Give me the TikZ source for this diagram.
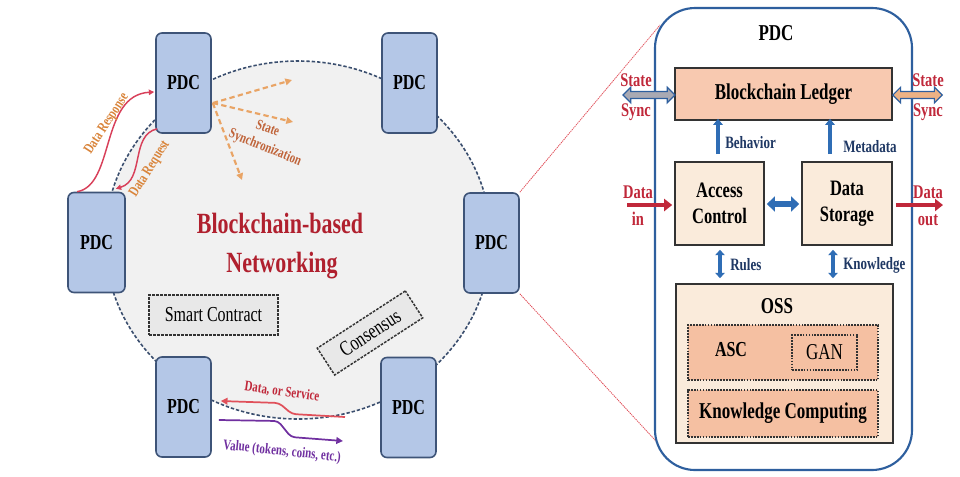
\documentclass[tikz,border=0pt]{standalone}
\usepackage{fontspec}
\setmainfont{Liberation Serif}[FakeStretch=0.75]
\usetikzlibrary{arrows.meta,shapes.arrows,calc}
\newlength\pxu \setlength\pxu{0.75pt}
\newcommand\fs[2]{\fontsize{#1}{#2}\selectfont}
\definecolor{pdcfill}{HTML}{B4C7E7}
\definecolor{pdcdraw}{HTML}{3E5478}
\definecolor{ellfill}{HTML}{F1F1F1}
\definecolor{elldraw}{HTML}{3A4E6E}
\definecolor{darkred}{HTML}{B0202E}
\definecolor{reqred}{HTML}{D8405A}
\definecolor{lblorange}{HTML}{D9843A}
\definecolor{syncorange}{HTML}{E9A465}
\definecolor{syncbrown}{HTML}{C0643A}
\definecolor{boxgray}{HTML}{E8E8E8}
\definecolor{frameblue}{HTML}{2E5F9E}
\definecolor{ledgerfill}{HTML}{F8C9B0}
\definecolor{beige}{HTML}{FAEBDB}
\definecolor{ascfill}{HTML}{F5C0A2}
\definecolor{arrblue}{HTML}{2F6DB5}
\definecolor{navy}{HTML}{1F3864}
\definecolor{txtred}{HTML}{C0283A}
\definecolor{vpurple}{HTML}{7030A0}
\definecolor{zoomred}{HTML}{E0505A}
\definecolor{syncgray}{HTML}{A9A9B3}
\definecolor{syncorg}{HTML}{EDB285}
\definecolor{boxdraw}{HTML}{333333}
\tikzset{
  pdc/.style={draw=pdcdraw, fill=pdcfill, line width=1.2pt, rounded corners=6\pxu,
    minimum width=55\pxu, minimum height=100\pxu, inner sep=0pt, font=\bfseries\fs{16}{19}},
  bbn/.style={text=darkred, font=\bfseries\fs{22}{26}, inner sep=0pt},
  dashbox/.style={draw=boxdraw, fill=boxgray, line width=1.1pt, dash pattern=on 2pt off 1pt,
    inner sep=0pt, font=\fs{16}{19}},
  lbl/.style={font=\bfseries\fs{11}{13}, inner sep=0pt},
  reqline/.style={draw=reqred, line width=1.1pt, -{Triangle[length=4pt,width=4pt]}},
  syncline/.style={draw=syncorange, line width=1.6pt, dash pattern=on 4pt off 2.5pt,
    -{Triangle[length=5pt,width=5pt]}},
  zoomline/.style={draw=zoomred, line width=0.6pt, dash pattern=on 1pt off 0.6pt},
  frame/.style={draw=frameblue, line width=1.6pt, rounded corners=40\pxu, fill=white,
    minimum width=257\pxu, minimum height=462\pxu, inner sep=0pt},
  solidbox/.style={draw=boxdraw, line width=1.2pt, inner sep=0pt, align=center,
    font=\bfseries\fs{16.5}{19.5}},
  dotbox/.style={draw=boxdraw, line width=1.2pt, dash pattern=on 1.3pt off 0.9pt,
    inner sep=0pt, font=\bfseries\fs{17}{20}},
  upa/.style={draw=arrblue, line width=2.5pt, -{Triangle[length=4.5pt,width=7pt]}},
  dba/.style={draw=arrblue, line width=4.5pt, {Triangle[length=6pt,width=11pt]}-{Triangle[length=6pt,width=11pt]}},
  vda/.style={draw=arrblue, line width=2.5pt, {Triangle[length=4pt,width=7pt]}-{Triangle[length=4pt,width=7pt]}},
  reda/.style={draw=txtred, line width=3.2pt, -{Triangle[length=6pt,width=9pt]}},
  navylbl/.style={text=navy, font=\bfseries\fs{13}{15}, inner sep=0pt, anchor=west},
  redlbl/.style={text=txtred, font=\bfseries\fs{14.5}{17}, inner sep=0pt, anchor=base},
  syncarr/.style={double arrow, draw=frameblue, line width=0.9pt, minimum height=39pt,
    inner xsep=0pt, inner ysep=2.2pt, double arrow head extend=3.2pt,
    double arrow head indent=0pt, minimum width=0pt},
}
\begin{document}
\begin{tikzpicture}[x=0.75pt,y=-0.75pt]
\useasboundingbox (0,0) rectangle (960,476);
% network ellipse
\draw[fill=ellfill, draw=elldraw, line width=1.2pt, dash pattern=on 2.5pt off 1.5pt]
  (298,240) ellipse [x radius=193, y radius=179];
% PDC nodes
\node[pdc] (p1) at (183.5,83) {PDC};
\node[pdc] (p2) at (409.5,83) {PDC};
\node[pdc, minimum width=57\pxu] (p3) at (96.5,242.5) {PDC};
\node[pdc] (p4) at (491.5,243) {PDC};
\node[pdc] (p5) at (183.5,407) {PDC};
\node[pdc] (p6) at (408.5,407.5) {PDC};
% titles
\node[bbn, anchor=base] (t1) at (280,233) {Blockchain-based};
\node[bbn, anchor=base] (t2) at (282,272) {Networking};
\node[dashbox, minimum width=129\pxu, minimum height=40\pxu] (sc) at (213.5,315) {Smart Contract};
\node[dashbox, rotate=33, minimum width=105\pxu, minimum height=32\pxu] (cs) at (370,333) {Consensus};
% data response / request
\coordinate (drs) at ($(p3.north west)+(10,0)$);
\coordinate (dre) at ($(p1.west)+(-1,9)$);
\draw[reqline] (drs) .. controls (115,185) and (100,95) .. (dre);
\coordinate (dqs) at ($(p1.south west)+(2,-5)$);
\coordinate (dqe) at ($(p3.north east)+(-10,-3)$);
\draw[reqline] (dqs) .. controls (130,135) and (145,180) .. (dqe);
\node[lbl, text=lblorange, rotate=57] (ldr) at (107,124) {Data Response};
\node[lbl, text=lblorange, rotate=58] (ldq) at (150,169) {Data Request};
% state synchronization
\coordinate (ss) at ($(p1.east)+(1,20)$);
\coordinate (ss1) at (292,80);
\coordinate (ss2) at (293,122);
\coordinate (ss3) at (242,180);
\draw[syncline] (ss) -- (ss1);
\draw[syncline] (ss) -- (ss2);
\draw[syncline] (ss) -- (ss3);
\node[lbl, text=syncbrown, rotate=-20] (lst) at (268,128) {State};
\node[lbl, text=syncbrown, rotate=-22] (lsy) at (265,148) {Synchronization};
% data or service / value
\coordinate (dsA) at (345,417);
\coordinate (dsB) at ($(p5.east)+(9,-6)$);
\draw[draw=zoomred, line width=1.3pt, rounded corners=3pt, -{Triangle[length=5pt,width=5pt]}]
  (dsA) -- (292,414) -- (279,403) -- (dsB);
\coordinate (vA) at ($(p5.east)+(7,13)$);
\coordinate (vB) at (343,441);
\draw[draw=vpurple, line width=1.3pt, rounded corners=3pt, -{Triangle[length=5pt,width=5pt]}]
  (vA) -- (278,421) -- (291,437) -- (vB);
\node[lbl, text=txtred, rotate=-8] (lds) at (282,392) {Data, or Service};
\node[lbl, text=vpurple, rotate=-6] (lva) at (282,452) {Value (tokens, coins, etc.)};
% zoom lines
\coordinate (z1) at (660,25);
\coordinate (z2) at (667,453);
\draw[zoomline] (p4.north east) -- (z1);
\draw[zoomline] (p4.south east) -- (z2);
% right panel
\node[frame] (pdcf) at (783.5,239) {};
\node[font=\bfseries\fs{17}{20}, inner sep=0pt, anchor=base] (ptitle) at (776,40) {PDC};
\node[solidbox, fill=ledgerfill, minimum width=217\pxu, minimum height=52\pxu, font=\bfseries\fs{17}{20}] (led) at (783.5,94) {Blockchain Ledger};
\node[solidbox, fill=beige, minimum width=89\pxu, minimum height=83\pxu] (ac) at (719.5,203.5) {Access\\Control};
\node[solidbox, fill=beige, minimum width=90\pxu, minimum height=83\pxu] (ds) at (847,203.5) {Data\\Storage};
\node[solidbox, fill=beige, minimum width=217\pxu, minimum height=159\pxu] (oss) at (784.5,363.5) {};
\node[font=\bfseries\fs{17}{20}, inner sep=0pt, anchor=base] (osst) at (777,313) {OSS};
\node[dotbox, fill=ascfill, minimum width=190\pxu, minimum height=55\pxu] (asc) at (783,352.5) {};
\node[font=\bfseries\fs{16}{19}, inner sep=0pt, anchor=base] (asct) at (731,356) {ASC};
\node[dotbox, minimum width=65\pxu, minimum height=35\pxu, font=\fs{17}{20}] (gan) at (824.5,352.5) {GAN};
\node[dotbox, fill=ascfill, minimum width=190\pxu, minimum height=47\pxu] (kc) at (783,413.5) {Knowledge Computing};
% internal arrows
\draw[upa] ($(ac.north)+(-1.5,-7)$) -- ($(ac.north |- led.south)+(-1.5,-2)$);
\draw[upa] ($(ds.north)+(-17,-7)$) -- ($(ds.north |- led.south)+(-17,-2)$);
\draw[dba] ($(ac.east)+(2,0.5)$) -- ($(ds.west)+(-2,0.5)$);
\draw[vda] ($(ac.south)+(0.5,4)$) -- ($(ac.south |- oss.north)+(0.5,-5)$);
\draw[vda] ($(ds.south)+(-14,4)$) -- ($(ds.south |- oss.north)+(-14,-5)$);
\node[navylbl] (lbe) at (725,143) {Behavior};
\node[navylbl] (lme) at (843,147) {Metadata};
\node[navylbl] (lru) at (730,265) {Rules};
\node[navylbl] (lkn) at (843,265) {Knowledge};
% state sync
\node[syncarr, fill=syncgray] (sal) at (649,95) {};
\node[syncarr, fill=syncorg, minimum height=37pt] (sar) at (917.5,95) {};
\node[redlbl] (sl1) at (636,86) {State};
\node[redlbl] (sl2) at (636,116) {Sync};
\node[redlbl] (sr1) at (928,86) {State};
\node[redlbl] (sr2) at (928,116) {Sync};
% data in / out
\coordinate (din) at (627,205);
\coordinate (dout) at (943,205);
\draw[reda] (din) -- ($(ac.west)+(-2,1.5)$);
\draw[reda] ($(ds.east)+(3,1.5)$) -- (dout);
\node[redlbl] (di1) at (638,198) {Data};
\node[redlbl] (di2) at (638,225) {in};
\node[redlbl] (do1) at (928,198) {Data};
\node[redlbl] (do2) at (928,225) {out};
\end{tikzpicture}
\end{document}
